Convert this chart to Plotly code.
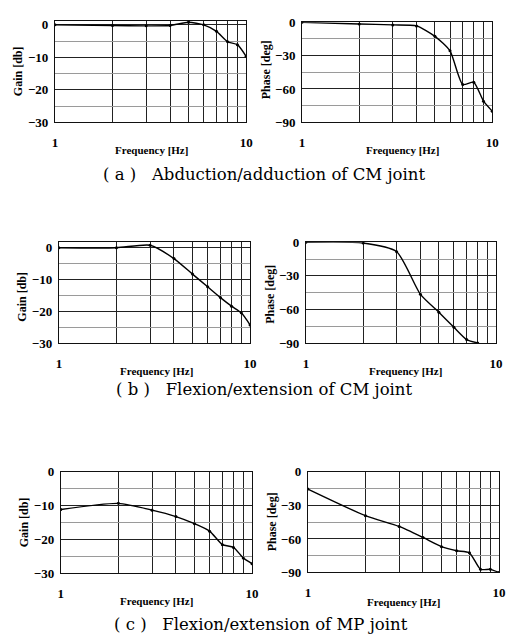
import plotly.graph_objects as go

freq = [1, 2, 3, 4, 5, 6, 7, 8, 9, 10]

gain_a = [0.0, -0.2, -0.3, -0.2, 0.8, 0.0, -2.0, -5.2, -6.1, -9.7]
phase_a = [0.0, -1.5, -2.3, -3.2, -12.6, -25.7, -56.0, -54.0, -71.0, -80.0]

gain_b = [0.0, 0.0, 0.8, -3.4, -8.3, -12.3, -15.7, -18.4, -20.5, -24.3]
freq_b_phase = [1, 2, 3, 4, 5, 6, 7, 8]
phase_b = [0.0, -0.6, -8.4, -46.5, -62.5, -76.0, -87.0, -90.0]

gain_c = [-11.1, -9.3, -11.3, -13.2, -15.3, -17.5, -21.5, -22.3, -25.4, -27.1]
phase_c = [-15.4, -39.2, -48.8, -58.7, -66.9, -70.6, -72.4, -87.2, -87.2, -90.0]

x_major = [1, 10]
x_minor = [2, 3, 4, 5, 6, 7, 8, 9]

captions = ["( a )   Abduction/adduction of CM joint",
            "( b )   Flexion/extension of CM joint",
            "( c )   Flexion/extension of MP joint"]

W, H = 509, 642

# panel layout in pixels: (left, right, top, bottom)
panels = [
    dict(x=freq, y=gain_a, box=(53, 248, 14.3, 118), yr=[-30, 1.2], kind="gain",
         ytitle=(16, 66), xtitle=(151, 146)),
    dict(x=freq, y=phase_a, box=(305, 499, 15.7, 118), yr=[-90, 0], kind="phase",
         ytitle=(268, 64), xtitle=(407, 146)),
    dict(x=freq, y=gain_b, box=(57, 252, 241, 344), yr=[-30, 1.7], kind="gain",
         ytitle=(19, 297), xtitle=(157, 373)),
    dict(x=freq_b_phase, y=phase_b, box=(309, 503, 241, 344), yr=[-90, 0], kind="phase",
         ytitle=(272, 294), xtitle=(411, 373)),
    dict(x=freq, y=gain_c, box=(59, 254, 476, 580), yr=[-30, 0], kind="gain",
         ytitle=(21, 528), xtitle=(157, 608)),
    dict(x=freq, y=phase_c, box=(311, 506, 476, 579), yr=[-90, 0], kind="phase",
         ytitle=(274, 527), xtitle=(409, 609)),
]
caption_pos = [(266, 172), (266, 392), (263, 632)]

fig = go.Figure()
tick_font = dict(family="Liberation Serif", size=13, color="black", weight="bold")
annots = []
for i, p in enumerate(panels):
    n = "" if i == 0 else str(i + 1)
    l, r, t, b = p["box"]
    xa = dict(
        domain=[l / W, r / W], type="log", range=[0, 1],
        tickmode="array", tickvals=x_major, showgrid=True,
        gridcolor="#222", gridwidth=1, showline=True, linecolor="#111",
        linewidth=1, mirror=True, ticks="", tickfont=tick_font,
        ticklabelstandoff=8, anchor="y" + n, zeroline=False,
        minor=dict(tickmode="array", tickvals=x_minor, showgrid=True,
                   gridcolor="#222", gridwidth=1, ticks=""),
    )
    if p["kind"] == "gain":
        dt, mdt = 10, 5
    else:
        dt, mdt = 30, 15
    ya = dict(
        domain=[1 - b / H, 1 - t / H], range=p["yr"], tick0=0, dtick=dt,
        showgrid=True, gridcolor="#222", gridwidth=1, showline=True,
        linecolor="#111", linewidth=1, mirror=True, ticks="",
        tickfont=tick_font, zeroline=False, anchor="x" + n,
        minor=dict(dtick=mdt, tick0=0, showgrid=True, gridcolor="#9a9a9a", gridwidth=1),
        ticklabelstandoff=3,
    )
    fig.update_layout({"xaxis" + n: xa, "yaxis" + n: ya})
    fig.add_trace(go.Scatter(
        x=p["x"], y=p["y"], xaxis="x" + n, yaxis="y" + n, mode="lines+markers",
        line=dict(color="black", width=1.4, shape="spline", smoothing=0.6),
        marker=dict(size=3, color="black"), showlegend=False, cliponaxis=True,
    ))
    yt = "Gain [db]" if p["kind"] == "gain" else "Phase [deg]"
    annots.append(dict(x=p["ytitle"][0] / W, y=1 - p["ytitle"][1] / H, xref="paper", yref="paper",
                       text=yt, textangle=-90, showarrow=False,
                       font=dict(family="Liberation Serif", size=12, color="black", weight="bold"),
                       xanchor="center", yanchor="middle"))
    annots.append(dict(x=p["xtitle"][0] / W, y=1 - p["xtitle"][1] / H, xref="paper", yref="paper",
                       text="Frequency [Hz]", showarrow=False,
                       font=dict(family="Liberation Serif", size=11, color="black", weight="bold"),
                       xanchor="center", yanchor="middle"))

for c, (cx, cy) in zip(captions, caption_pos):
    annots.append(dict(x=cx / W, y=1 - cy / H, xref="paper", yref="paper", text=c,
                       showarrow=False, font=dict(family="DejaVu Serif", size=16.5, color="black"),
                       xanchor="center", yanchor="middle"))

fig.update_layout(
    width=W, height=H, margin=dict(l=0, r=0, t=0, b=0),
    paper_bgcolor="white", plot_bgcolor="white", annotations=annots,
)
fig.write_html("out.html")
